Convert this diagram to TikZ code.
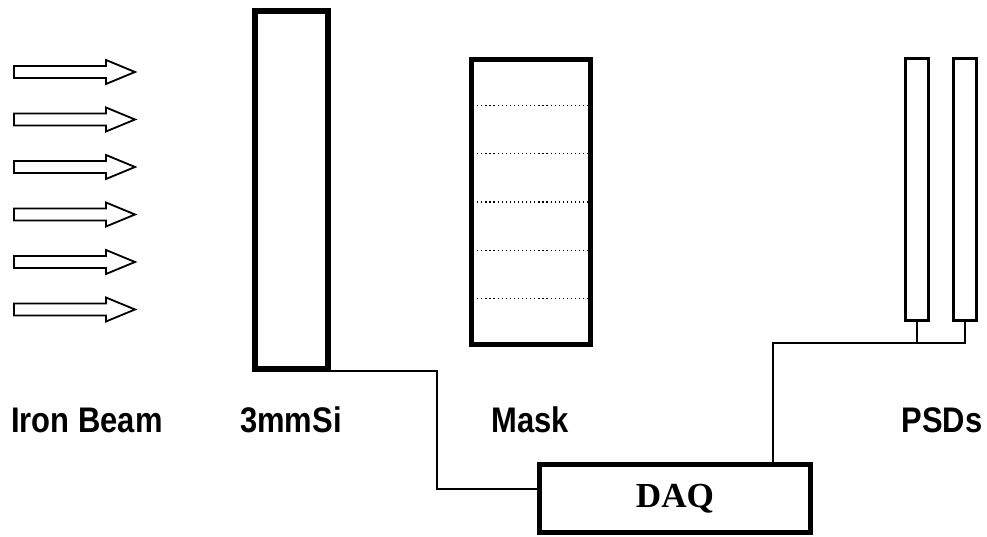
\documentclass[tikz,border=0pt]{standalone}
\usepackage{fontspec}
\setmainfont{Liberation Serif}
\setsansfont{Liberation Sans}
\usepackage{tikz}
\usetikzlibrary{calc}

\def\u{0.025cm}
\tikzset{
  part/.style={draw=black, fill=white, inner sep=0pt},
  lbl/.style={font=\sffamily\bfseries\fontsize{22}{24}\selectfont, inner sep=0pt, yscale=1.15, transform shape},
  wire/.style={line width=1.2pt},
  beam/.style={line width=1.3pt, line join=miter}
}

\begin{document}
\begin{tikzpicture}[x=\u, y=-\u]
\useasboundingbox (0,0) rectangle (987,537);
% incoming beam
\foreach \y in {72,119.5,167,214.5,262,309.5}
  \draw[beam] (14,\y-6) -- (106,\y-6) -- (106,\y-12) -- (135,\y) -- (106,\y+12) -- (106,\y+6) -- (14,\y+6) -- cycle;
% detectors
\node[part, line width=4.6pt, minimum width=73*\u, minimum height=358*\u] (si) at (291.5,190) {};
\node[part, line width=3.6pt, minimum width=119*\u, minimum height=285*\u] (mask) at (531,202) {};
\foreach \k in {1,...,5}
  \draw[line width=0.9pt, dotted] ($(mask.north west)!\k/6!(mask.south west)$) -- ($(mask.north east)!\k/6!(mask.south east)$);
\node[part, line width=2pt, minimum width=23*\u, minimum height=262*\u] (psda) at (917,189.5) {};
\node[part, line width=2pt, minimum width=23*\u, minimum height=262*\u] (psdb) at (965,189.5) {};
\node[part, line width=3.6pt, minimum width=271*\u, minimum height=68*\u,
  font=\rmfamily\bfseries\fontsize{25}{28}\selectfont] (daq) at (675,498.5) {DAQ};
% labels
\node[lbl] (lbeam) at (87,420) {Iron Beam};
\node[lbl] (lsi) at (291,420) {3mmSi};
\node[lbl] (lmask) at (530,420) {Mask};
\node[lbl] (lpsd) at (942,420) {PSDs};
% cables
\coordinate (c1) at (437,489);
\coordinate (c2) at (773,343);
\draw[wire] ($(si.south east)+(0,-1)$) -| (c1) -- (c1 -| daq.west);
\draw[wire] (psdb.south) |- (c2) -- (c2 |- daq.north);
\draw[wire] (psda.south) -- (psda.south |- c2);
\end{tikzpicture}
\end{document}
